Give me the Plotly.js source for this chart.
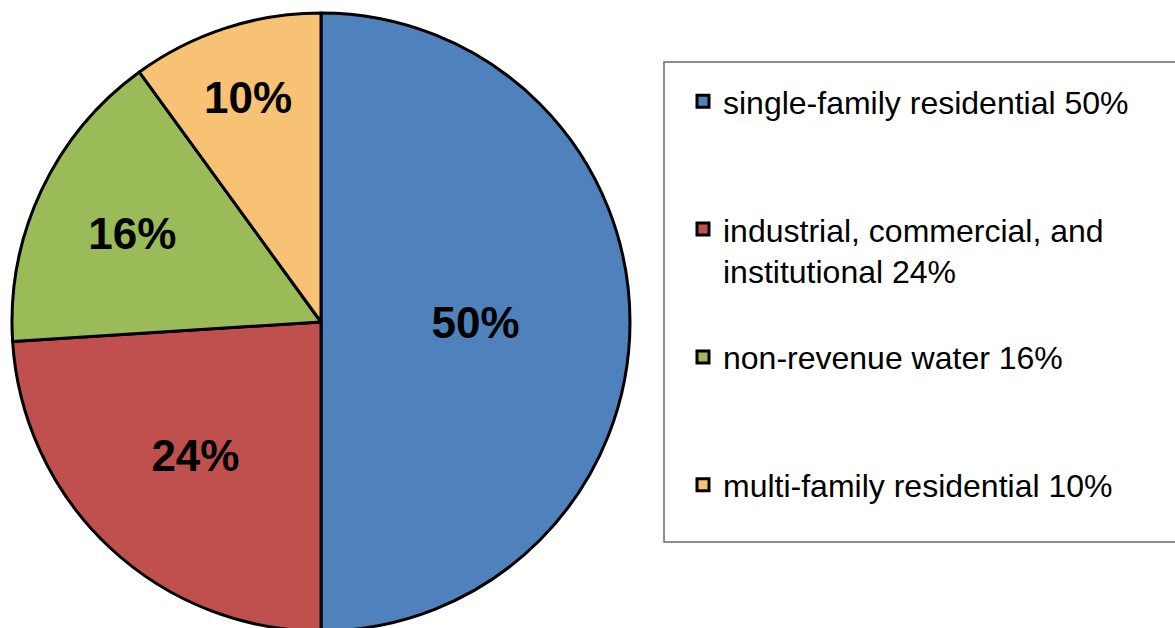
<!DOCTYPE html>
<html>
<head>
<meta charset="utf-8">
<script src="https://cdn.plot.ly/plotly-3.0.1.min.js"></script>
<style>
  html, body { margin: 0; padding: 0; background: #ffffff; overflow: hidden; }
  #chart { width: 1175px; height: 640px; }
</style>
</head>
<body>
<div id="chart"></div>
<script>
// ---- data ----
const categories = [
  'single-family residential',
  'industrial, commercial, and<br>institutional',
  'non-revenue water',
  'multi-family residential'
];
const shares = [50, 24, 16, 10];
const sliceColors = ['#4F81BD', '#C0504D', '#9BBB59', '#F8C274'];

// ---- legend labels (name + share), padded so entries are spaced like the original ----
const LINES_PER_ENTRY = 3;
const legendLabels = categories.map(function (c, i) {
  let txt = c + ' ' + shares[i] + '%';
  if (i < categories.length - 1) {
    const n = txt.split('<br>').length;
    for (let k = n; k < LINES_PER_ENTRY; k++) txt += '<br>&nbsp;';
  }
  return txt;
});

const W = 1175, H = 640;
const px = function (x) { return x / W; };
const py = function (y) { return 1 - y / H; };

const trace = {
  type: 'pie',
  labels: legendLabels,
  values: shares,
  sort: false,
  direction: 'clockwise',
  rotation: 0,
  marker: { colors: sliceColors, line: { color: '#000000', width: 3 } },
  texttemplate: '%{value}%',
  textposition: 'inside',
  insidetextorientation: 'horizontal',
  textfont: { family: 'Liberation Sans, Arial, sans-serif', size: 44, color: '#000000', weight: 'bold' },
  hoverinfo: 'none',
  automargin: false,
  domain: { x: [px(12), px(630)], y: [py(631), py(13)] }
};

const layout = {
  width: W,
  height: H,
  margin: { l: 0, r: 0, t: 0, b: 0, autoexpand: false },
  paper_bgcolor: '#ffffff',
  plot_bgcolor: '#ffffff',
  showlegend: true,
  legend: {
    x: px(683), xanchor: 'left',
    y: py(74), yanchor: 'top',
    valign: 'top',
    bgcolor: 'rgba(0,0,0,0)',
    borderwidth: 0,
    font: { family: 'Liberation Sans, Arial, sans-serif', size: 32, color: '#000000' },
    itemclick: false, itemdoubleclick: false
  },
  shapes: [{
    type: 'rect', xref: 'paper', yref: 'paper',
    x0: px(664), x1: px(1190), y0: py(542), y1: py(62),
    line: { color: '#6a6a6a', width: 1.5 },
    fillcolor: 'rgba(0,0,0,0)',
    layer: 'below'
  }]
};

Plotly.newPlot('chart', [trace], layout, { displayModeBar: false, staticPlot: true });
</script>
</body>
</html>
